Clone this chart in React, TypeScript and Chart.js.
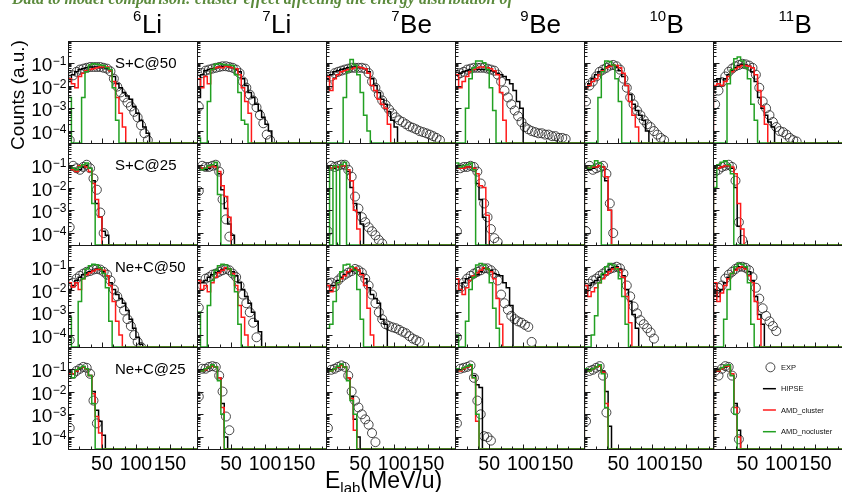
import React, { useEffect, useRef } from 'react';
import { Chart, registerables } from 'chart.js';

Chart.register(...registerables);

const FONT = "'Liberation Sans', Arial, Helvetica, sans-serif";

// ---- axis ranges / binning ----
const X_MIN = 0;
const X_MAX = 190;
const Y_MIN = 3e-5;
const Y_MAX = 0.9;
const BIN_WIDTH = 5; // MeV/u
const EXP_OFFSET = 2.5; // EXP points at bin centres

// ---- labels ----
const nucleusMass = ['6', '7', '7', '9', '10', '11'];
const nucleusSymbol = ['Li', 'Li', 'Be', 'Be', 'B', 'B'];
const systemLabels = ['S+C@50', 'S+C@25', 'Ne+C@50', 'Ne+C@25'];
const xTickLabels = [50, 100, 150];
const xMinorStep = 50 / 3;
const yTickExponents = [-1, -2, -3, -4];
const legendLabels = ['EXP', 'HIPSE', 'AMD_cluster', 'AMD_nocluster'];

// ---- colours ----
const EXP_COLOR = 'rgba(40,40,40,0.85)';
const HIPSE_COLOR = '#000000';
const CLUS_COLOR = '#ff1a1a';
const NOCLUS_COLOR = '#22a022';

// ================= DATA (5 MeV/u bins starting at 0) =================
// ---- S+C@50 ----
const sc50_li6_exp = [4e-5, 0.028, 0.04, 0.05, 0.055, 0.06, 0.065, 0.065, 0.065, 0.065, 0.06, 0.055, 0.042, 0.02, 9e-3, 5e-3, 3e-3, 1.8e-3, 1.2e-3, 7e-4, 4e-4, 1.8e-4, 8e-5, 4e-5];
const sc50_li6_hipse = [0.015, 0.03, 0.04, 0.05, 0.055, 0.06, 0.065, 0.065, 0.065, 0.06, 0.06, 0.055, 0.045, 0.025, 0.012, 8e-3, 5e-3, 3.5e-3, 2.5e-3, 1.2e-3, 6e-4, 3e-4, 1.5e-4, 8e-5];
const sc50_li6_clus = [0.02, 0.012, 0.008, 0.025, 0.035, 0.045, 0.05, 0.055, 0.06, 0.065, 0.065, 0.065, 0.045, 0.015, 3e-3, 6e-4, 1.5e-4];
const sc50_li6_noclus = [3e-3, 0, 0, 0, 3e-3, 0.04, 0.08, 0.09, 0.085, 0.08, 0.075, 0.06, 0.05, 8e-3, 3e-4];

const sc50_li7_exp = [1.2e-3, 0.035, 0.045, 0.05, 0.055, 0.06, 0.065, 0.07, 0.07, 0.065, 0.06, 0.05, 0.035, 0.015, 8e-3, 4e-3, 2.2e-3, 1.1e-3, 5e-4, 2.2e-4, 7e-5, 4e-5];
const sc50_li7_hipse = [3e-3, 0.03, 0.045, 0.05, 0.055, 0.06, 0.065, 0.07, 0.07, 0.065, 0.06, 0.05, 0.04, 0.02, 0.01, 5e-3, 3e-3, 1.5e-3, 8e-4, 4e-4, 2e-4, 1e-4];
const sc50_li7_clus = [0.02, 8e-3, 0.025, 0.012, 0.05, 0.06, 0.065, 0.06, 0.07, 0.065, 0.06, 0.055, 0.03, 8e-3, 2e-3, 6e-4];
const sc50_li7_noclus = [5e-5, 0, 0, 2e-3, 0.05, 0.085, 0.09, 0.085, 0.08, 0.08, 0.075, 0.03, 5e-3, 3e-4, 2e-4];

const sc50_be7_exp = [0.01, 0.025, 0.035, 0.04, 0.045, 0.05, 0.055, 0.06, 0.06, 0.06, 0.06, 0.055, 0.035, 0.015, 8e-3, 4e-3, 2.2e-3, 1.4e-3, 9e-4, 6e-4, 4e-4, 3e-4, 2.5e-4, 2e-4, 1.6e-4, 1.4e-4, 1.2e-4, 1e-4, 9e-5, 8e-5, 7e-5, 6e-5, 5e-5, 4e-5];
const sc50_be7_hipse = [0.02, 0.03, 0.04, 0.045, 0.05, 0.055, 0.06, 0.065, 0.065, 0.06, 0.06, 0.055, 0.04, 0.02, 0.01, 5e-3, 2.5e-3, 1.5e-3, 7e-4, 3e-4, 1.5e-4];
const sc50_be7_clus = [0.025, 6e-3, 0.02, 0.03, 0.04, 0.045, 0.05, 0.055, 0.06, 0.065, 0.06, 0.055, 0.035, 0.01, 6e-3, 2.5e-3, 1.5e-3, 1e-3, 2e-4];
const sc50_be7_noclus = [0, 0, 0, 0, 0, 3e-3, 0.04, 0.14, 0.08, 0.03, 5e-3, 5e-4, 1e-4];

const sc50_be9_exp = [0.028, 0.035, 0.04, 0.05, 0.055, 0.06, 0.06, 0.06, 0.06, 0.055, 0.05, 0.045, 0.03, 0.015, 6e-3, 3e-3, 1.5e-3, 8e-4, 4.5e-4, 2.5e-4, 1.5e-4, 1.2e-4, 1e-4, 9e-5, 8e-5, 8e-5, 7e-5, 7e-5, 6e-5, 6e-5, 5e-5, 5e-5, 4.5e-5];
const sc50_be9_hipse = [0.03, 0.035, 0.04, 0.045, 0.05, 0.05, 0.05, 0.05, 0.05, 0.05, 0.045, 0.04, 0.035, 0.03, 0.025, 0.018, 0.012, 6e-3, 2e-3, 1e-3];
const sc50_be9_clus = [0.03, 8e-3, 0.015, 0.025, 0.04, 0.05, 0.06, 0.065, 0.065, 0.06, 0.055, 0.045, 0.03, 5e-3, 3e-4];
const sc50_be9_noclus = [0, 0, 0, 1e-3, 0.02, 0.06, 0.12, 0.12, 0.1, 0.05, 8e-3, 8e-4];

const sc50_b10_exp = [2e-3, 0.01, 0.015, 0.025, 0.04, 0.05, 0.06, 0.075, 0.08, 0.07, 0.05, 0.02, 8e-3, 3e-3, 1.5e-3, 8e-4, 5e-4, 3e-4, 2e-4, 1.5e-4, 1e-4, 7e-5, 5e-5, 4e-5];
const sc50_b10_hipse = [8e-3, 0.012, 0.02, 0.03, 0.04, 0.05, 0.065, 0.075, 0.075, 0.065, 0.045, 0.025, 0.01, 4e-3, 1.5e-3, 8e-4, 5e-4, 3e-4, 1e-4];
const sc50_b10_clus = [8e-3, 0.01, 0.015, 0.02, 0.03, 0.045, 0.06, 0.07, 0.08, 0.075, 0.06, 0.035, 0.01, 2e-3, 5e-4, 1.5e-4];
const sc50_b10_noclus = [0, 0, 0, 0, 3e-3, 0.04, 0.12, 0.11, 0.08, 0.02, 2e-3];

const sc50_b11_exp = [1.5e-3, 6e-3, 0.014, 0.025, 0.04, 0.055, 0.07, 0.08, 0.09, 0.085, 0.075, 0.06, 0.03, 8e-3, 2e-3, 1e-3, 5e-4, 2.5e-4, 1.5e-4, 1e-4, 9e-5, 7e-5, 5e-5, 4e-5, 3.5e-5];
const sc50_b11_hipse = [0.015, 0.02, 0.01, 0.02, 0.03, 0.045, 0.06, 0.075, 0.085, 0.08, 0.07, 0.04, 0.015, 3e-3, 1e-3, 5e-4, 2.5e-4, 1.5e-4];
const sc50_b11_clus = [0.01, 0.012, 0.01, 0.015, 0.025, 0.04, 0.055, 0.065, 0.075, 0.075, 0.07, 0.06, 0.03, 6e-3, 1.2e-3, 2e-4];
const sc50_b11_noclus = [0, 0, 0, 0, 0.012, 0.05, 0.15, 0.18, 0.12, 0.06, 0.02, 1.5e-3, 3e-4];

// ---- S+C@25 ----
const sc25_li6_exp = [1.8e-4, 0.09, 0.07, 0.06, 0.08, 0.1, 0.07, 0.025, 8e-3, 8e-4, 1e-4];
const sc25_li6_hipse = [0.09, 0.07, 0.06, 0.06, 0.08, 0.09, 0.07, 0.02, 2e-3, 5e-4, 1.2e-4, 8e-5];
const sc25_li6_clus = [0.07, 0.06, 0.05, 0.09, 0.1, 0.08, 0.05, 0.015, 3e-3, 5e-4];
const sc25_li6_noclus = [0.08, 0.07, 0.06, 0.08, 0.1, 0.12, 0.07, 2e-3];

const sc25_li7_exp = [7e-3, 0.09, 0.08, 0.08, 0.09, 0.1, 0.05, 3e-3, 4e-4, 7e-5];
const sc25_li7_hipse = [0.07, 0.07, 0.06, 0.07, 0.09, 0.09, 0.04, 8e-3, 1.2e-3, 2.5e-4, 8e-5];
const sc25_li7_clus = [0.08, 0.07, 0.07, 0.08, 0.09, 0.08, 0.05, 0.012, 4e-3, 5e-4];
const sc25_li7_noclus = [0.07, 0.06, 0.07, 0.09, 0.1, 0.13, 5e-3];

const sc25_be7_exp = [1.2e-4, 0.09, 0.08, 0.09, 0.1, 0.1, 0.06, 0.03, 4e-3, 1.2e-3, 5e-4, 3e-4, 1.8e-4, 1.2e-4, 8e-5, 5e-5, 3.5e-5];
const sc25_be7_hipse = [0.09, 0.07, 0.07, 0.08, 0.09, 0.09, 0.05, 0.01, 2e-3, 8e-4, 2.5e-4];
const sc25_be7_clus = [0.08, 0.07, 0.08, 0.08, 0.09, 0.09, 0.06, 0.02, 1e-3, 1.5e-4];
const sc25_be7_noclus = [0.08, 0, 0.09, 0, 0.1, 0.13];

const sc25_be9_exp = [1.2e-4, 0.07, 0.08, 0.08, 0.09, 0.08, 0.05, 0.015, 2e-3, 5e-4, 1.5e-4, 6e-5, 4e-5];
const sc25_be9_hipse = [0.09, 0.07, 0.07, 0.08, 0.08, 0.07, 0.015, 3e-3, 5e-4];
const sc25_be9_clus = [0.09, 0.07, 0.07, 0.08, 0.08, 0.07, 0.04, 0.012, 0.01, 6e-4];
const sc25_be9_noclus = [0.12, 0.08, 0.09, 0.1, 0.12, 0.06];

const sc25_b10_exp = [1.2e-4, 0.09, 0.06, 0.07, 0.08, 0.09, 0.04, 2e-3, 1e-4];
const sc25_b10_hipse = [0.08, 0.06, 0.07, 0.08, 0.09, 0.08, 0.02, 1e-3];
const sc25_b10_clus = [0.09, 0.07, 0.08, 0.08, 0.09, 0.08, 0.03, 1e-3];
const sc25_b10_noclus = [0.08, 0.07, 0.09, 0.15, 0.12];

const sc25_b11_exp = [0.05, 0.06, 0.08, 0.09, 0.1, 0.08, 0.02, 3e-4, 5e-5];
const sc25_b11_hipse = [0.08, 0.07, 0.08, 0.09, 0.09, 0.07, 0.01, 2e-4];
const sc25_b11_clus = [0.07, 0.07, 0.08, 0.09, 0.09, 0.08, 0.04, 2e-3, 1.5e-4];
const sc25_b11_noclus = [0.01, 0.1, 0.13, 0.15, 0.1, 0.04];

// ---- Ne+C@50 ----
const nec50_li6_exp = [6e-5, 0.02, 0.03, 0.04, 0.05, 0.06, 0.065, 0.075, 0.08, 0.075, 0.06, 0.045, 0.025, 0.01, 5e-3, 2.5e-3, 1.2e-3, 5e-4, 2.5e-4, 1e-4, 5e-5, 3e-5];
const nec50_li6_hipse = [0.01, 0.015, 0.025, 0.035, 0.045, 0.055, 0.06, 0.07, 0.08, 0.075, 0.06, 0.04, 0.02, 0.01, 6e-3, 4e-3, 2.5e-3, 1.2e-3, 5e-4, 2e-4, 8e-5, 4e-5];
const nec50_li6_clus = [0.02, 0.013, 0.02, 0.01, 0.03, 0.045, 0.055, 0.065, 0.075, 0.08, 0.07, 0.04, 0.015, 3e-3, 4e-4, 1e-4];
const nec50_li6_noclus = [6e-4, 0, 0, 3e-3, 0.03, 0.08, 0.11, 0.13, 0.12, 0.09, 0.05, 0.012, 4e-4];

const nec50_li7_exp = [1.6e-3, 0.015, 0.03, 0.035, 0.045, 0.05, 0.06, 0.07, 0.08, 0.07, 0.05, 0.035, 0.015, 6e-3, 2.5e-3, 1e-3, 3.5e-4, 8e-5];
const nec50_li7_hipse = [0.02, 0.02, 0.025, 0.035, 0.045, 0.055, 0.065, 0.075, 0.085, 0.08, 0.06, 0.04, 0.02, 0.01, 5e-3, 2.5e-3, 1e-3, 4e-4, 1.4e-4];
const nec50_li7_clus = [0.025, 0.01, 0.015, 0.008, 0.02, 0.035, 0.055, 0.07, 0.09, 0.075, 0.05, 0.015, 2e-3, 6e-4, 1e-4];
const nec50_li7_noclus = [1e-3, 0, 0, 2e-3, 0.025, 0.07, 0.11, 0.13, 0.12, 0.08, 0.04, 8e-3, 3e-4];

const nec50_be7_exp = [0.02, 0.02, 0.013, 0.025, 0.035, 0.045, 0.055, 0.065, 0.08, 0.07, 0.055, 0.03, 0.015, 6e-3, 2.5e-3, 1e-3, 5e-4, 3e-4, 2.5e-4, 2.2e-4, 2e-4, 1.7e-4, 1.4e-4, 1.2e-4, 9e-5, 7e-5, 6e-5, 5e-5];
const nec50_be7_hipse = [0.015, 0.015, 0.015, 0.025, 0.035, 0.045, 0.055, 0.065, 0.08, 0.07, 0.05, 0.03, 0.012, 6e-3, 4e-3, 2.5e-3, 5e-4, 3e-4];
const nec50_be7_clus = [0.015, 8e-3, 0.012, 0.02, 0.03, 0.04, 0.06, 0.075, 0.09, 0.07, 0.045, 0.015, 1.5e-3, 1e-4];
const nec50_be7_noclus = [2e-4, 3e-4, 3e-3, 0.02, 0.06, 0.12, 0.13, 0.1, 0.07, 0.01, 5e-4];

const nec50_be9_exp = [8e-5, 0.012, 0.02, 0.03, 0.04, 0.05, 0.06, 0.07, 0.085, 0.085, 0.07, 0.05, 0.025, 6e-3, 2.5e-3, 1.3e-3, 7e-4, 5e-4, 4e-4, 3.5e-4, 2.8e-4, 2.3e-4, 5e-5];
const nec50_be9_hipse = [0.03, 0.01, 0.02, 0.03, 0.035, 0.04, 0.045, 0.06, 0.085, 0.08, 0.07, 0.05, 0.045, 0.04, 0.02, 0.012, 2e-3];
const nec50_be9_clus = [0.03, 0.01, 6e-3, 0.012, 0.025, 0.04, 0.055, 0.07, 0.09, 0.08, 0.06, 0.03, 4e-3, 3e-4];
const nec50_be9_noclus = [1e-4, 0, 0, 4e-4, 0.01, 0.035, 0.12, 0.14, 0.12, 0.08, 0.02, 1.5e-3, 2e-4];

const nec50_b10_exp = [0.012, 0.018, 0.025, 0.03, 0.04, 0.05, 0.065, 0.08, 0.09, 0.1, 0.085, 0.05, 0.015, 5e-3, 1.8e-3, 9e-4, 4.5e-4, 3e-4, 2e-4, 1.3e-4, 7e-5];
const nec50_b10_hipse = [0.01, 0.015, 0.02, 0.025, 0.035, 0.045, 0.06, 0.075, 0.09, 0.1, 0.08, 0.04, 0.01, 3e-3, 8e-4, 2e-4];
const nec50_b10_clus = [0.015, 5e-3, 8e-3, 0.012, 0.02, 0.03, 0.045, 0.06, 0.08, 0.09, 0.07, 0.035, 5e-3, 3.5e-4];
const nec50_b10_noclus = [0, 0, 1e-4, 7e-4, 0.02, 0.05, 0.1, 0.14, 0.12, 0.08, 0.03, 5e-3, 3e-4];

const nec50_b11_exp = [9e-3, 0.012, 0.015, 0.03, 0.045, 0.06, 0.08, 0.1, 0.1, 0.09, 0.07, 0.035, 0.012, 4e-3, 1.5e-3, 7e-4, 4e-4, 2.5e-4, 1.5e-4];
const nec50_b11_hipse = [0.01, 5e-3, 0.01, 0.02, 0.035, 0.05, 0.075, 0.1, 0.095, 0.085, 0.06, 0.025, 5e-3, 8e-4, 3e-4];
const nec50_b11_clus = [0.02, 3e-3, 7e-3, 0.015, 0.03, 0.05, 0.07, 0.09, 0.1, 0.08, 0.04, 0.02, 3e-3, 5e-4];
const nec50_b11_noclus = [0, 0, 0, 5e-4, 0.01, 0.05, 0.1, 0.14, 0.13, 0.1, 0.02, 3e-4];

// ---- Ne+C@25 ----
const nec25_li6_exp = [2.5e-4, 0.06, 0.08, 0.1, 0.12, 0.11, 0.06, 4e-3, 4e-4];
const nec25_li6_hipse = [0.07, 0.06, 0.08, 0.1, 0.12, 0.1, 0.05, 0.01, 1.5e-3, 5e-4, 1.2e-4];
const nec25_li6_clus = [0.06, 0.06, 0.08, 0.11, 0.12, 0.1, 0.05, 8e-3, 8e-4, 1.5e-4];
const nec25_li6_noclus = [0.08, 0.04, 0.09, 0.11, 0.13, 0.1, 0.05, 3e-3];

const nec25_li7_exp = [6e-3, 0.1, 0.1, 0.12, 0.13, 0.12, 0.05, 0.01, 8e-4, 2e-4];
const nec25_li7_hipse = [0.09, 0.08, 0.09, 0.11, 0.13, 0.12, 0.04, 3e-3, 1e-4];
const nec25_li7_clus = [0.09, 0.08, 0.09, 0.12, 0.13, 0.12, 0.04, 2e-3];
const nec25_li7_noclus = [0.09, 0.08, 0.1, 0.12, 0.15, 0.12, 0.03, 1e-3];

const nec25_be7_exp = [2.5e-4, 0.09, 0.1, 0.12, 0.14, 0.12, 0.05, 0.01, 4e-3, 2e-3, 1e-3, 6e-4, 3.5e-4, 1.5e-4, 6e-5];
const nec25_be7_hipse = [0.1, 0.09, 0.1, 0.12, 0.15, 0.12, 0.04, 6e-3, 6e-4, 1e-4];
const nec25_be7_clus = [0.09, 0.08, 0.1, 0.12, 0.14, 0.12, 0.04, 5e-3, 2e-4];
const nec25_be7_noclus = [0.09, 0.08, 0.1, 0.13, 0.16, 0.12, 0.03, 4e-3, 1e-3];

const nec25_be9_exp = [4e-4, 0.1, 0.11, 0.12, 0.14, 0.04, 4e-3, 1e-3, 1.1e-4, 1e-4, 7e-5];
const nec25_be9_hipse = [0.1, 0.09, 0.1, 0.12, 0.14, 0.05, 0.02, 0.015];
const nec25_be9_clus = [0.09, 0.08, 0.1, 0.12, 0.13, 0.04, 5e-4];
const nec25_be9_noclus = [0.1, 0.09, 0.11, 0.13, 0.15, 0.04, 1e-3];

const nec25_b10_exp = [5e-4, 0.08, 0.09, 0.11, 0.13, 0.05, 1.2e-3];
const nec25_b10_hipse = [0.09, 0.09, 0.1, 0.12, 0.13, 0.08, 0.01, 3e-4];
const nec25_b10_clus = [0.08, 0.08, 0.1, 0.12, 0.13, 0.07, 3e-3];
const nec25_b10_noclus = [0.1, 0.08, 0.1, 0.12, 0.15, 0.06, 2e-3];

const nec25_b11_exp = [0.08, 0.05, 0.1, 0.13, 0.12, 0.05, 1.5e-3, 8e-5];
const nec25_b11_hipse = [0.1, 0.08, 0.1, 0.12, 0.13, 0.05, 3e-3, 2e-4];
const nec25_b11_clus = [0.08, 0.08, 0.1, 0.13, 0.13, 0.06, 2e-3, 1e-4];
const nec25_b11_noclus = [0.09, 0.09, 0.11, 0.14, 0.15, 0.05, 1e-3];

// rows = systems, columns = nuclei; each cell: [EXP, HIPSE, AMD_cluster, AMD_nocluster]
const seriesTable: number[][][][] = [
  [
    [sc50_li6_exp, sc50_li6_hipse, sc50_li6_clus, sc50_li6_noclus],
    [sc50_li7_exp, sc50_li7_hipse, sc50_li7_clus, sc50_li7_noclus],
    [sc50_be7_exp, sc50_be7_hipse, sc50_be7_clus, sc50_be7_noclus],
    [sc50_be9_exp, sc50_be9_hipse, sc50_be9_clus, sc50_be9_noclus],
    [sc50_b10_exp, sc50_b10_hipse, sc50_b10_clus, sc50_b10_noclus],
    [sc50_b11_exp, sc50_b11_hipse, sc50_b11_clus, sc50_b11_noclus],
  ],
  [
    [sc25_li6_exp, sc25_li6_hipse, sc25_li6_clus, sc25_li6_noclus],
    [sc25_li7_exp, sc25_li7_hipse, sc25_li7_clus, sc25_li7_noclus],
    [sc25_be7_exp, sc25_be7_hipse, sc25_be7_clus, sc25_be7_noclus],
    [sc25_be9_exp, sc25_be9_hipse, sc25_be9_clus, sc25_be9_noclus],
    [sc25_b10_exp, sc25_b10_hipse, sc25_b10_clus, sc25_b10_noclus],
    [sc25_b11_exp, sc25_b11_hipse, sc25_b11_clus, sc25_b11_noclus],
  ],
  [
    [nec50_li6_exp, nec50_li6_hipse, nec50_li6_clus, nec50_li6_noclus],
    [nec50_li7_exp, nec50_li7_hipse, nec50_li7_clus, nec50_li7_noclus],
    [nec50_be7_exp, nec50_be7_hipse, nec50_be7_clus, nec50_be7_noclus],
    [nec50_be9_exp, nec50_be9_hipse, nec50_be9_clus, nec50_be9_noclus],
    [nec50_b10_exp, nec50_b10_hipse, nec50_b10_clus, nec50_b10_noclus],
    [nec50_b11_exp, nec50_b11_hipse, nec50_b11_clus, nec50_b11_noclus],
  ],
  [
    [nec25_li6_exp, nec25_li6_hipse, nec25_li6_clus, nec25_li6_noclus],
    [nec25_li7_exp, nec25_li7_hipse, nec25_li7_clus, nec25_li7_noclus],
    [nec25_be7_exp, nec25_be7_hipse, nec25_be7_clus, nec25_be7_noclus],
    [nec25_be9_exp, nec25_be9_hipse, nec25_be9_clus, nec25_be9_noclus],
    [nec25_b10_exp, nec25_b10_hipse, nec25_b10_clus, nec25_b10_noclus],
    [nec25_b11_exp, nec25_b11_hipse, nec25_b11_clus, nec25_b11_noclus],
  ],
];

// ================= helpers =================
function histData(vals: number[]) {
  const pts: { x: number; y: number }[] = [{ x: X_MIN, y: Y_MIN }];
  const nb = Math.round((X_MAX - X_MIN) / BIN_WIDTH);
  for (let i = 0; i < nb; i++) {
    const raw = i < vals.length ? vals[i] : 0;
    const v = raw > Y_MIN ? raw : Y_MIN;
    const x0 = X_MIN + i * BIN_WIDTH;
    const x1 = Math.min(x0 + BIN_WIDTH, X_MAX);
    pts.push({ x: x0, y: v }, { x: x1, y: v });
  }
  return pts;
}

function expData(vals: number[]) {
  const pts: { x: number; y: number }[] = [];
  vals.forEach((v, i) => {
    if (v > 0) pts.push({ x: EXP_OFFSET + i * BIN_WIDTH, y: v });
  });
  return pts;
}

function buildDatasets() {
  const ds: any[] = [];
  for (let r = 0; r < seriesTable.length; r++) {
    for (let c = 0; c < seriesTable[r].length; c++) {
      const [exp, hipse, clus, noclus] = seriesTable[r][c];
      const axes = { xAxisID: `x${c}`, yAxisID: `y${r}` };
      ds.push({
        type: 'scatter', label: `EXP ${r}-${c}`, data: expData(exp), ...axes,
        showLine: false, pointStyle: 'circle', pointRadius: 4.5, borderWidth: 1,
        borderColor: EXP_COLOR, backgroundColor: 'rgba(0,0,0,0)', order: 3,
      });
      const line = { type: 'line', pointRadius: 0, borderWidth: 1.5, fill: false, tension: 0, borderJoinStyle: 'miter', ...axes };
      ds.push({ ...line, label: `HIPSE ${r}-${c}`, data: histData(hipse), borderColor: HIPSE_COLOR, order: 2 });
      ds.push({ ...line, label: `AMD_cluster ${r}-${c}`, data: histData(clus), borderColor: CLUS_COLOR, order: 1 });
      ds.push({ ...line, label: `AMD_nocluster ${r}-${c}`, data: histData(noclus), borderColor: NOCLUS_COLOR, order: 0 });
    }
  }
  return ds;
}

function buildScales() {
  const scales: any = {};
  for (let c = 0; c < nucleusMass.length; c++) {
    scales[`x${c}`] = {
      type: 'linear', position: 'bottom', min: X_MIN, max: X_MAX, bounds: 'data',
      stack: 'cols', stackWeight: 1, weight: c, display: false, offset: false,
    };
  }
  for (let r = 0; r < systemLabels.length; r++) {
    scales[`y${r}`] = {
      type: 'logarithmic', position: 'left', min: Y_MIN, max: Y_MAX, bounds: 'data',
      stack: 'rows', stackWeight: 1, weight: systemLabels.length - r, display: false,
    };
  }
  return scales;
}

const decorPlugin = {
  id: 'panelDecor',
  afterDatasetsDraw(chart: any) {
    const ctx: CanvasRenderingContext2D = chart.ctx;
    const nCols = nucleusMass.length;
    const nRows = systemLabels.length;
    ctx.save();

    // frames and tick marks
    ctx.strokeStyle = '#1a1a1a';
    ctx.lineWidth = 1;
    for (let r = 0; r < nRows; r++) {
      for (let c = 0; c < nCols; c++) {
        const xs = chart.scales[`x${c}`];
        const ys = chart.scales[`y${r}`];
        const L = Math.round(xs.left) + 0.5;
        const R = Math.round(xs.right) + 0.5;
        const T = Math.round(ys.top) + 0.5;
        const B = Math.round(ys.bottom) + 0.5;
        ctx.strokeRect(L, T, R - L, B - T);
        ctx.beginPath();
        for (let k = -5; k <= 0; k++) {
          for (let m = 1; m <= 9; m++) {
            const v = m * Math.pow(10, k);
            if (v < Y_MIN || v > Y_MAX) continue;
            const py = Math.round(ys.getPixelForValue(v)) + 0.5;
            const len = m === 1 ? 6 : 3;
            ctx.moveTo(L, py);
            ctx.lineTo(L + len, py);
          }
        }
        for (let i = 1; i * xMinorStep < X_MAX - 0.1; i++) {
          const v = i * xMinorStep;
          const px = Math.round(xs.getPixelForValue(v)) + 0.5;
          const len = i % 3 === 0 ? 5 : 3;
          ctx.moveTo(px, B);
          ctx.lineTo(px, B - len);
        }
        ctx.stroke();
      }
    }

    ctx.fillStyle = '#000';
    ctx.textBaseline = 'alphabetic';

    // y tick labels 10^-n on first column
    const x0 = chart.scales['x0'];
    for (let r = 0; r < nRows; r++) {
      const ys = chart.scales[`y${r}`];
      for (const e of yTickExponents) {
        const py = ys.getPixelForValue(Math.pow(10, e));
        const sup = '\u2212' + String(-e);
        ctx.font = `19px ${FONT}`;
        const wBase = ctx.measureText('10').width;
        ctx.font = `12px ${FONT}`;
        const wSup = ctx.measureText(sup).width;
        const xr = x0.left - 1.5;
        const xStart = xr - wSup - wBase - 0.5;
        ctx.textAlign = 'left';
        ctx.font = `19px ${FONT}`;
        ctx.fillText('10', xStart, py + 8);
        ctx.font = `12px ${FONT}`;
        ctx.fillText(sup, xStart + wBase + 0.5, py + 2);
      }
    }

    // x tick labels under last row
    const yLast = chart.scales[`y${nRows - 1}`];
    ctx.font = `19.5px ${FONT}`;
    ctx.textAlign = 'center';
    for (let c = 0; c < nCols; c++) {
      const xs = chart.scales[`x${c}`];
      for (const v of xTickLabels) {
        ctx.fillText(String(v), xs.getPixelForValue(v), yLast.bottom + 21);
      }
    }

    // column headers (nuclei)
    ctx.textAlign = 'left';
    for (let c = 0; c < nCols; c++) {
      const xs = chart.scales[`x${c}`];
      const cx = (xs.left + xs.right) / 2 + 0.5;
      ctx.font = `15px ${FONT}`;
      ctx.fillText(nucleusMass[c], cx, 20.5);
      const w = ctx.measureText(nucleusMass[c]).width;
      ctx.font = `26px ${FONT}`;
      ctx.fillText(nucleusSymbol[c], cx + w + 0.5, 33);
    }

    // system labels
    ctx.font = `15px ${FONT}`;
    for (let r = 0; r < nRows; r++) {
      const ys = chart.scales[`y${r}`];
      ctx.fillText(systemLabels[r], x0.left + 47, ys.top + 27);
    }

    // y axis title
    ctx.save();
    ctx.translate(24, 95);
    ctx.rotate(-Math.PI / 2);
    ctx.textAlign = 'center';
    ctx.font = `19px ${FONT}`;
    ctx.fillText('Counts (a.u.)', 0, 0);
    ctx.restore();

    // x axis title E_lab(MeV/u)
    ctx.textAlign = 'left';
    let tx = 325;
    ctx.font = `23px ${FONT}`;
    ctx.fillText('E', tx, 488);
    tx += ctx.measureText('E').width;
    ctx.font = `15px ${FONT}`;
    ctx.fillText('lab', tx, 493);
    tx += ctx.measureText('lab').width;
    ctx.font = `23px ${FONT}`;
    ctx.fillText('(MeV/u)', tx, 488);

    // legend inside last panel
    const lx = chart.scales[`x${nCols - 1}`].left;
    const ly = chart.scales[`y${nRows - 1}`].top;
    const rowsY = [20.3, 41.7, 63, 84.7];
    ctx.font = `7.5px ${FONT}`;
    ctx.fillStyle = '#111';
    legendLabels.forEach((lab, i) => {
      const y = ly + rowsY[i];
      if (i === 0) {
        ctx.beginPath();
        ctx.strokeStyle = EXP_COLOR;
        ctx.lineWidth = 1;
        ctx.arc(lx + 57, y, 4.5, 0, Math.PI * 2);
        ctx.stroke();
      } else {
        ctx.beginPath();
        ctx.strokeStyle = [HIPSE_COLOR, CLUS_COLOR, NOCLUS_COLOR][i - 1];
        ctx.lineWidth = 1.5;
        ctx.moveTo(lx + 49.5, y);
        ctx.lineTo(lx + 62.5, y);
        ctx.stroke();
      }
      ctx.fillText(lab, lx + 67.5, y + 2.7);
    });

    // cut-off caption text at the very top
    ctx.font = `italic bold 16px 'Liberation Serif', serif`;
    ctx.fillStyle = '#5b8a3c';
    ctx.fillText('Data to model comparison: cluster effect affecting the energy distribution of', 12, 4, 520);

    ctx.restore();
  },
};

export default function App() {
  const ref = useRef<HTMLCanvasElement>(null);
  useEffect(() => {
    const canvas = ref.current;
    if (!canvas) return;
    const chart = new Chart(canvas, {
      type: 'line',
      data: { datasets: buildDatasets() },
      options: {
        animation: false,
        responsive: false,
        devicePixelRatio: 1,
        layout: { padding: { left: 68, top: 41, right: 2.5, bottom: 43 } },
        plugins: { legend: { display: false }, tooltip: { enabled: false }, title: { display: false } },
        events: [],
        scales: buildScales(),
      } as any,
      plugins: [decorPlugin as any],
    } as any);
    return () => chart.destroy();
  }, []);
  return (
    <div style={{ position: 'fixed', left: 0, top: 0, width: 842, height: 492, overflow: 'hidden', background: '#fff' }}>
      <canvas ref={ref} width={848} height={492} style={{ display: 'block', width: 848, height: 492 }} />
    </div>
  );
}
